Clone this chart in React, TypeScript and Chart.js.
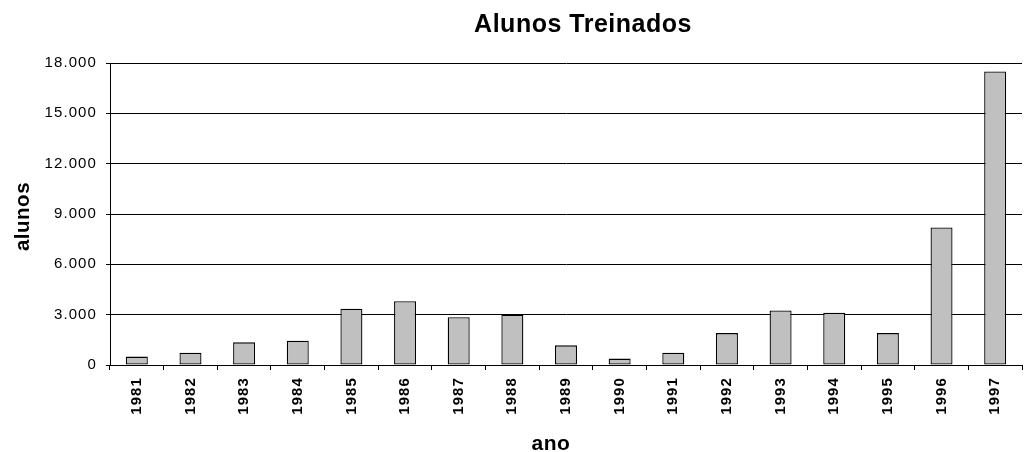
import React, { useEffect, useRef } from "react";
import { Chart, registerables } from "chart.js";

Chart.register(...registerables);

const TITLE = "Alunos Treinados";
const X_TITLE = "ano";
const Y_TITLE = "alunos";
const years = ["1981","1982","1983","1984","1985","1986","1987","1988","1989","1990","1991","1992","1993","1994","1995","1996","1997"];
const alunos = [500, 730, 1350, 1450, 3350, 3800, 2850, 3000, 1170, 380, 730, 1900, 3250, 3120, 1900, 8200, 17500];
const Y_MIN = 0;
const Y_MAX = 18000;
const Y_STEP = 3000;

const FONT = "'Liberation Sans', Arial, sans-serif";
const TICK_SPACING = "1.1px";
const TITLE_SPACING = "0.5px";

const fmt = (v: number) => String(v).replace(/\B(?=(\d{3})+(?!\d))/g, ".");

const spacingPlugin = {
  id: "spacing",
  beforeUpdate(chart: any) { chart.ctx.letterSpacing = TICK_SPACING; },
  beforeDraw(chart: any) { chart.ctx.letterSpacing = TICK_SPACING; },
  afterDraw(chart: any) {
    const { ctx, chartArea } = chart;
    const cx = (chartArea.left + chartArea.right) / 2;
    ctx.save();
    ctx.letterSpacing = TITLE_SPACING;
    ctx.fillStyle = "#000";
    ctx.textAlign = "center";
    ctx.textBaseline = "alphabetic";
    ctx.font = `bold 25px ${FONT}`;
    ctx.fillText(TITLE, cx + 17, chartArea.top - 31.5);
    ctx.font = `bold 21px ${FONT}`;
    ctx.fillText(X_TITLE, cx - 15, chartArea.bottom + 85);
    ctx.font = `bold 20.5px ${FONT}`;
    ctx.translate(28.5, (chartArea.top + chartArea.bottom) / 2 + 2.5);
    ctx.rotate(-Math.PI / 2);
    ctx.fillText(Y_TITLE, 0, 0);
    ctx.restore();
  },
};

export default function App() {
  const ref = useRef<HTMLCanvasElement | null>(null);
  useEffect(() => {
    if (!ref.current) return;
    const chart = new Chart(ref.current, {
      type: "bar",
      data: {
        labels: years,
        datasets: [
          {
            data: alunos,
            backgroundColor: "#c0c0c0",
            borderColor: "#000",
            borderWidth: 1.3,
            borderSkipped: false,
            categoryPercentage: 1,
            barPercentage: 0.41,
          },
        ],
      },
      options: {
        animation: false,
        responsive: true,
        maintainAspectRatio: false,
        layout: { padding: { top: 63, right: 4, left: 0, bottom: 0 } },
        plugins: {
          legend: { display: false },
          title: { display: false },
          tooltip: { enabled: false },
        },
        scales: {
          x: {
            afterFit: (s: any) => { s.height = 87; },
            grid: {
              display: true,
              drawOnChartArea: false,
              drawTicks: true,
              tickLength: 5,
              color: "#000",
              offset: true,
            },
            border: { display: true, color: "#000", width: 1 },
            ticks: {
              minRotation: 90,
              maxRotation: 90,
              autoSkip: false,
              padding: 7,
              color: "#000",
              font: { family: FONT, size: 15, weight: "bold" },
            },
          },
          y: {
            min: Y_MIN,
            max: Y_MAX,
            afterFit: (s: any) => { s.width = 110; },
            grid: {
              color: "#000",
              lineWidth: 1,
              drawTicks: true,
              tickLength: 4,
            },
            border: { display: true, color: "#000", width: 1 },
            ticks: {
              stepSize: Y_STEP,
              padding: 9,
              color: "#000",
              font: { family: FONT, size: 15 },
              callback: (v: any) => fmt(Number(v)),
            },
          },
        },
      },
      plugins: [spacingPlugin],
    });
    return () => chart.destroy();
  }, []);
  return (
    <div style={{ position: "absolute", left: 0, top: 0, width: 1026, height: 452, background: "#fff" }}>
      <canvas ref={ref} />
    </div>
  );
}
